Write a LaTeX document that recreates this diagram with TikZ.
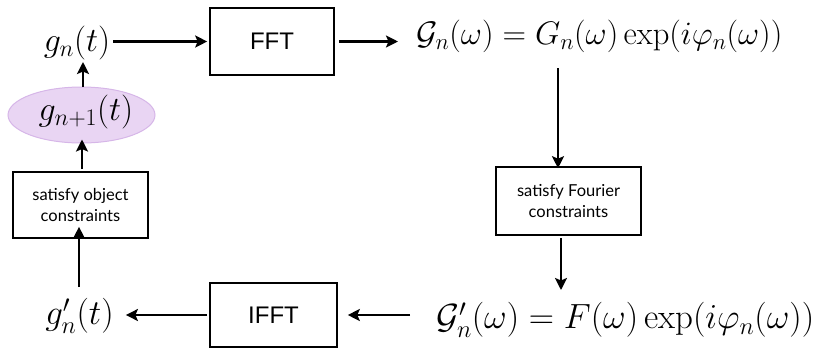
\RequirePackage{fix-cm}
\documentclass[tikz,border=0pt]{standalone}
\usepackage{amsmath}
\usepackage{fontspec}
\newfontfamily\helv{Liberation Sans}
\newfontfamily\gill{Lato}
\usetikzlibrary{arrows.meta,shapes.geometric}
\definecolor{ellfill}{HTML}{E9D5F3}
\definecolor{elldraw}{HTML}{D6B6E8}
\tikzset{
  arr/.style={line width=2.6pt,-{Stealth[length=12pt,width=12pt,inset=2.5pt]}},
  bigbox/.style={draw,line width=1.6pt,inner sep=0pt,font=\helv\fontsize{24}{28}\selectfont},
  smallbox/.style={draw,line width=1.6pt,inner sep=0pt,align=center,font=\gill\fontsize{16.5}{21.5}\selectfont},
  mathlbl/.style={inner sep=0pt,font=\fontsize{33}{38}\selectfont},
  ellnode/.style={ellipse,draw=elldraw,fill=ellfill,line width=1pt,minimum width=147pt,minimum height=56pt,inner sep=0pt,font=\fontsize{34}{38}\selectfont}
}
\begin{document}
\begin{tikzpicture}[x=1pt,y=-1pt]
\useasboundingbox (0,0) rectangle (822,349);
% nodes
\node[mathlbl,font=\fontsize{34}{38}\selectfont] (gn) at (77,43) {$g_n(t)$};
\node[bigbox,minimum width=124pt,minimum height=67pt] (fft) at (272,41.5) {FFT};
\node[mathlbl,font=\fontsize{32.6}{38}\selectfont,anchor=west] (Gtop) at (416,36.5) {$\mathcal{G}_n(\omega)=G_n(\omega)\exp(i\varphi_n(\omega))$};
\node[smallbox,minimum width=145pt,minimum height=68pt] (fbox) at (568.5,201) {satisfy Fourier\\constraints};
\node[mathlbl,font=\fontsize{35}{40}\selectfont,anchor=west] (Gbot) at (436,320) {$\mathcal{G}'_n(\omega)=F(\omega)\exp(i\varphi_n(\omega))$};
\node[bigbox,minimum width=127pt,minimum height=64pt] (ifft) at (273.5,315) {IFFT};
\node[mathlbl,font=\fontsize{35}{40}\selectfont] (gpn) at (79.5,316) {$g'_n(t)$};
\node[smallbox,minimum width=135pt,minimum height=66pt] (obox) at (80.5,205) {satisfy object\\constraints};
\node[ellnode] (ell) at (81.5,115) {};
\node[inner sep=0pt,font=\fontsize{34}{38}\selectfont] (elltxt) at (86,112) {$g_{n+1}(t)$};
% connectors
\draw[arr] ([xshift=3pt]gn.east |- fft.west) -- ([xshift=-2pt]fft.west);
\draw[arr] ([xshift=4pt]fft.east) -- ([xshift=-18pt]fft.east -| Gtop.west);
\coordinate (c1) at (558,68);
\draw[arr] (c1) -- ([yshift=-2pt]c1 |- fbox.north);
\coordinate (c2) at (561,238);
\coordinate (c2e) at (561,290);
\draw[arr] (c2) -- (c2e);
\coordinate (c3) at (410,315);
\draw[arr] (c3) -- ([xshift=10pt]c3 -| ifft.east);
\draw[arr] ([xshift=-2pt]ifft.west) -- ([xshift=12pt]ifft.west -| gpn.east);
\coordinate (c4) at (79,287);
\draw[arr] (c4) -- ([yshift=12pt]c4 |- obox.south);
\coordinate (c5) at (82,169);
\draw[arr] (c5) -- ([yshift=4pt]c5 |- ell.south);
\coordinate (c6) at (83,87);
\coordinate (c6e) at (83,62);
\draw[arr] (c6) -- (c6e);
\end{tikzpicture}
\end{document}
